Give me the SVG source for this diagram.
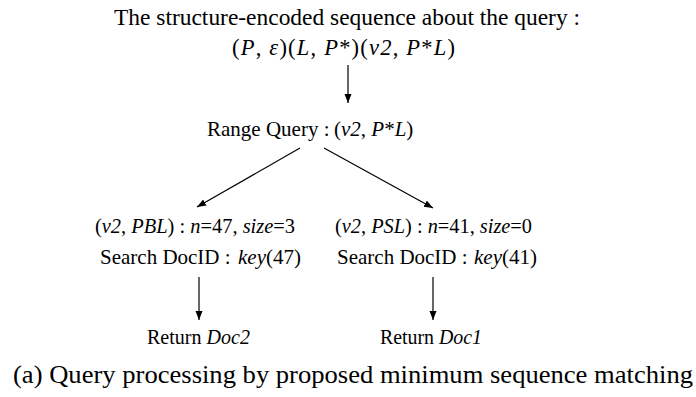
<svg xmlns="http://www.w3.org/2000/svg" width="696" height="397" viewBox="0 0 696 397">
  <style>
    text { font-family: "Liberation Serif", "Times New Roman", serif; font-size: 21px; fill: #000; }
    .i { font-style: italic; }
    .title { font-size: 22.5px; }
    .cap { font-size: 26px; }
    .edge { stroke: #000; stroke-width: 1.2; fill: none; marker-end: url(#arrow); }
  </style>
  <defs>
    <marker id="arrow" markerWidth="10" markerHeight="12" refX="9" refY="5" orient="auto" markerUnits="userSpaceOnUse">
      <path d="M0,1.5 L9,5 L0,8.5 Z" fill="#000"/>
    </marker>
  </defs>

  <g id="sequence">
    <text class="title" x="114" y="25" textLength="466" lengthAdjust="spacingAndGlyphs">The structure-encoded sequence about the query :</text>
    <text class="title" x="232" y="55" textLength="223" lengthAdjust="spacing">(<tspan class="i">P</tspan>, <tspan class="i">ε</tspan>)(<tspan class="i">L</tspan>, <tspan class="i">P</tspan>*)(<tspan class="i">v2</tspan>, <tspan class="i">P</tspan>*<tspan class="i">L</tspan>)</text>
  </g>

  <g id="range-query">
    <text x="207" y="136">Range Query :</text>
    <text x="334" y="136">(<tspan class="i">v2</tspan>, <tspan class="i">P</tspan>*<tspan class="i">L</tspan>)</text>
  </g>

  <g id="left-match">
    <text x="95" y="233" textLength="200" lengthAdjust="spacingAndGlyphs">(<tspan class="i">v2</tspan>, <tspan class="i">PBL</tspan>) : <tspan class="i">n</tspan>=47, <tspan class="i">size</tspan>=3</text>
    <text x="100" y="264">Search DocID :</text>
    <text x="238" y="264"><tspan class="i">key</tspan>(47)</text>
  </g>

  <g id="right-match">
    <text x="335" y="233" textLength="197" lengthAdjust="spacingAndGlyphs">(<tspan class="i">v2</tspan>, <tspan class="i">PSL</tspan>) : <tspan class="i">n</tspan>=41, <tspan class="i">size</tspan>=0</text>
    <text x="337" y="264">Search DocID :</text>
    <text x="474" y="264"><tspan class="i">key</tspan>(41)</text>
  </g>

  <g id="return-left">
    <text x="147" y="344" textLength="103" lengthAdjust="spacingAndGlyphs">Return <tspan class="i">Doc2</tspan></text>
  </g>

  <g id="return-right">
    <text x="380" y="344" textLength="102" lengthAdjust="spacingAndGlyphs">Return <tspan class="i">Doc1</tspan></text>
  </g>

  <g id="connectors">
    <line class="edge" x1="348" y1="65" x2="348" y2="103"/>
    <line class="edge" x1="300" y1="148" x2="197" y2="207"/>
    <line class="edge" x1="324" y1="148" x2="433" y2="208"/>
    <line class="edge" x1="199" y1="277" x2="199" y2="320"/>
    <line class="edge" x1="433" y1="277" x2="433" y2="320"/>
  </g>

  <g id="caption">
    <text class="cap" x="13" y="383" textLength="680" lengthAdjust="spacingAndGlyphs">(a) Query processing by proposed minimum sequence matching</text>
  </g>
</svg>
